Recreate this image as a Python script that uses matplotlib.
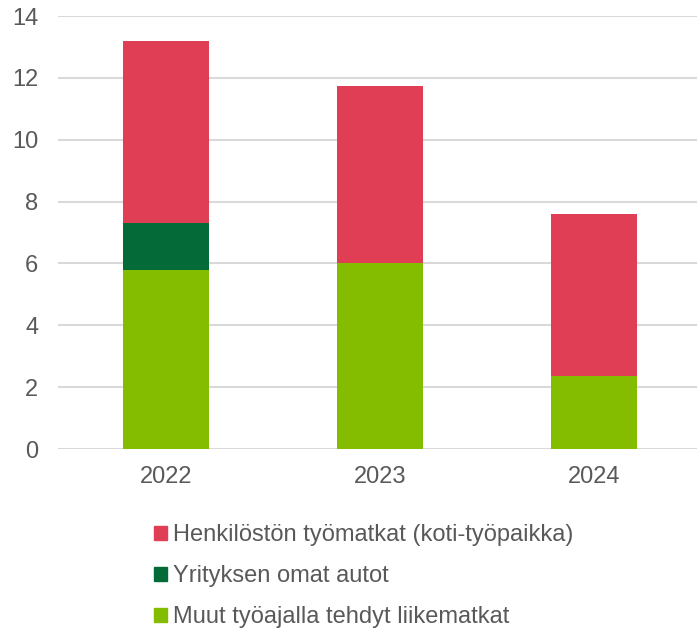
import numpy as np
import matplotlib.pyplot as plt
from matplotlib.patches import Patch

years = ["2022", "2023", "2024"]
muut = [5.8, 6.0, 2.35]
omat = [1.5, 0.0, 0.0]
henkilosto = [5.9, 5.75, 5.25]

labels = [
    "Henkilöstön työmatkat (koti-työpaikka)",
    "Yrityksen omat autot",
    "Muut työajalla tehdyt liikematkat",
]
colors = ["#E03E54", "#046A38", "#84BD00"]

plt.rcParams["font.family"] = ["Liberation Sans", "DejaVu Sans"]
text_color = "#595959"

fig = plt.figure(figsize=(6.97, 6.28), dpi=100)
ax = fig.add_axes([0.083, 0.285, 0.917, 0.6895])

x = np.arange(len(years))
w = 0.4
ax.bar(x, muut, w, color=colors[2], zorder=3)
ax.bar(x, omat, w, bottom=muut, color=colors[1], zorder=3)
bottom2 = np.array(muut) + np.array(omat)
ax.bar(x, henkilosto, w, bottom=bottom2, color=colors[0], zorder=3)

ax.set_ylim(0, 14)
ax.set_xlim(-0.505, 2.48)
ax.set_yticks(np.arange(0, 15, 2))
ax.set_xticks(x)
ax.set_xticklabels(years)
ax.yaxis.grid(True, color="#D9D9D9", lw=1.5, zorder=0)
for s in ax.spines.values():
    s.set_visible(False)
ax.tick_params(axis="both", length=0, labelsize=17, colors=text_color)
ax.tick_params(axis="y", pad=14)
ax.tick_params(axis="x", pad=12)

handles = [Patch(color=c) for c in colors]
leg = fig.legend(
    handles, labels, loc="upper left", bbox_to_anchor=(0.207, 0.18),
    frameon=False, fontsize=17, handlelength=0.55, handleheight=0.55,
    handletextpad=0.25, labelspacing=0.8, borderaxespad=0,
)
for t in leg.get_texts():
    t.set_color(text_color)

fig.savefig("out.png", dpi=100)
